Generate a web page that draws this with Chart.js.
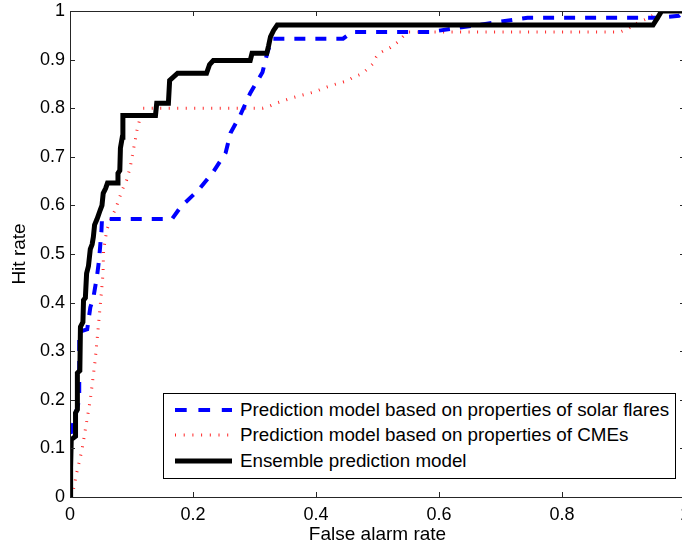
<!doctype html>
<html lang="en">
<head>
    <title>Hit rate vs false alarm rate</title>
    <meta charset="utf-8">
    <script src="https://cdn.jsdelivr.net/npm/chart.js@4.4.0/dist/chart.umd.min.js"></script>
    <style>
        html, body { margin: 0; padding: 0; background: #fff; overflow: hidden; }
        #wrap { position: relative; width: 690px; height: 551px; }
        #legend {
            position: absolute; left: 163px; top: 393px; width: 511px; height: 84px;
            border: 1px solid #000; background: #fff;
            font-family: "Liberation Sans", Arial, sans-serif; font-size: 18.8px; color: #000;
        }
        .row { position: absolute; left: 0; height: 22px; line-height: 22px; white-space: nowrap; }
        .row svg { position: absolute; left: 11px; top: 3px; }
        .row span { position: absolute; left: 76px; top: 0; }
    </style>
</head>
<body>
<div id="wrap">
    <canvas id="roc"></canvas>
    <div id="legend">
        <div class="row" style="top:5px">
            <svg width="60" height="16"><line x1="0" y1="8" x2="57" y2="8" stroke="#0000ff" stroke-width="4" stroke-dasharray="11.7,11.7"/></svg>
            <span>Prediction model based on properties of solar flares</span>
        </div>
        <div class="row" style="top:30px">
            <svg width="60" height="16"><line x1="0" y1="8" x2="57" y2="8" stroke="rgba(255,0,0,0.85)" stroke-width="3" stroke-dasharray="1,7.7"/></svg>
            <span>Prediction model based on properties of CMEs</span>
        </div>
        <div class="row" style="top:56px">
            <svg width="60" height="16"><line x1="0" y1="8" x2="57" y2="8" stroke="#000" stroke-width="5"/></svg>
            <span>Ensemble prediction model</span>
        </div>
    </div>
</div>
<script>
    // tick values
    const xTicks = [0, 0.2, 0.4, 0.6, 0.8, 1];
    const yTicks = [0, 0.1, 0.2, 0.3, 0.4, 0.5, 0.6, 0.7, 0.8, 0.9, 1];

    // solar flares model (blue dashed)
    const flareX = [0, 0.001, 0.015, 0.015, 0.028, 0.033, 0.038, 0.044, 0.047, 0.049, 0.051, 0.052, 0.166, 0.18, 0.209, 0.233, 0.253, 0.261, 0.277, 0.293, 0.313, 0.321, 0.329, 0.444, 0.459, 0.586, 0.744, 0.955, 0.99, 1];
    const flareY = [0, 0.13, 0.2, 0.34, 0.345, 0.39, 0.41, 0.455, 0.485, 0.515, 0.545, 0.572, 0.572, 0.597, 0.632, 0.669, 0.708, 0.749, 0.786, 0.831, 0.874, 0.915, 0.943, 0.943, 0.957, 0.957, 0.986, 0.986, 0.99, 1];

    // CME model (red dotted)
    const cmeX = [0.002, 0.0055, 0.011, 0.0195, 0.0276, 0.033, 0.041, 0.046, 0.051, 0.0537, 0.0546, 0.06, 0.068, 0.074, 0.079, 0.085, 0.092, 0.098, 0.102, 0.106, 0.109, 0.113, 0.115, 0.313, 0.322, 0.337, 0.358, 0.375, 0.399, 0.412, 0.428, 0.45, 0.461, 0.475, 0.485, 0.493, 0.498, 0.507, 0.521, 0.534, 0.542, 0.55, 0.895, 0.905, 0.925, 0.94, 0.96, 1];
    const cmeY = [0, 0.015, 0.05, 0.097, 0.159, 0.2, 0.282, 0.35, 0.42, 0.46, 0.508, 0.55, 0.578, 0.592, 0.611, 0.632, 0.652, 0.679, 0.707, 0.734, 0.755, 0.775, 0.8, 0.8, 0.803, 0.811, 0.82, 0.826, 0.834, 0.841, 0.848, 0.856, 0.864, 0.871, 0.882, 0.892, 0.905, 0.916, 0.925, 0.937, 0.948, 0.957, 0.957, 0.962, 0.977, 0.985, 1, 1];

    // ensemble model (black solid)
    const ensX = [0, 0.001, 0.002, 0.009, 0.009, 0.012, 0.012, 0.016, 0.017, 0.021, 0.022, 0.025, 0.027, 0.03, 0.033, 0.036, 0.038, 0.04, 0.044, 0.049, 0.052, 0.054, 0.058, 0.061, 0.077, 0.078, 0.081, 0.082, 0.085, 0.086, 0.139, 0.141, 0.16, 0.162, 0.175, 0.222, 0.227, 0.233, 0.293, 0.296, 0.32, 0.323, 0.326, 0.331, 0.337, 0.948, 0.955, 0.962, 1];
    const ensY = [0, 0.06, 0.118, 0.125, 0.173, 0.18, 0.255, 0.26, 0.35, 0.36, 0.405, 0.41, 0.46, 0.475, 0.51, 0.52, 0.535, 0.56, 0.572, 0.59, 0.6, 0.625, 0.635, 0.646, 0.646, 0.666, 0.672, 0.718, 0.74, 0.785, 0.785, 0.81, 0.81, 0.857, 0.872, 0.872, 0.89, 0.898, 0.898, 0.913, 0.913, 0.929, 0.947, 0.96, 0.971, 0.971, 0.985, 1, 1];

    function toPoints(xs, ys) {
        return xs.map((x, i) => ({x: x, y: ys[i]}));
    }

    const FONT = {family: '"Liberation Sans", Arial, sans-serif', size: 18};
    const TITLE_FONT = {family: '"Liberation Sans", Arial, sans-serif', size: 19};

    // box around the plot with inward ticks on all four sides
    const framePlugin = {
        id: 'frame',
        afterDatasetsDraw(chart) {
            const ctx = chart.ctx;
            const a = chart.chartArea;
            const xs = chart.scales.x, ys = chart.scales.y;
            const len = 5;
            ctx.save();
            ctx.strokeStyle = '#262626';
            ctx.lineWidth = 1;
            ctx.beginPath();
            xTicks.forEach(v => {
                const p = Math.round(xs.getPixelForValue(v)) + 0.5;
                ctx.moveTo(p, a.bottom); ctx.lineTo(p, a.bottom - len);
                ctx.moveTo(p, a.top); ctx.lineTo(p, a.top + len);
            });
            yTicks.forEach(v => {
                const p = Math.round(ys.getPixelForValue(v)) + 0.5;
                ctx.moveTo(a.left, p); ctx.lineTo(a.left + len, p);
                ctx.moveTo(a.right, p); ctx.lineTo(a.right - len, p);
            });
            ctx.stroke();
            ctx.strokeRect(Math.round(a.left) + 0.5, Math.round(a.top) + 0.5,
                Math.round(a.right - a.left), Math.round(a.bottom - a.top));
            ctx.restore();
        }
    };

    const ctx = document.getElementById('roc').getContext('2d');
    const chart = new Chart(ctx, {
        type: 'line',
        data: {
            datasets: [{
                label: 'Prediction model based on properties of solar flares',
                data: toPoints(flareX, flareY),
                borderColor: '#0000ff',
                borderWidth: 4,
                borderDash: [11, 10],
                order: 1
            }, {
                label: 'Prediction model based on properties of CMEs',
                data: toPoints(cmeX, cmeY),
                borderColor: 'rgba(255,0,0,0.85)',
                borderWidth: 3,
                borderDash: [1, 7.5],
                order: 2
            }, {
                label: 'Ensemble prediction model',
                data: toPoints(ensX, ensY),
                borderColor: '#000',
                borderWidth: 5,
                order: 0
            }]
        },
        options: {
            responsive: true,
            maintainAspectRatio: false,
            animation: false,
            devicePixelRatio: 1,
            layout: {padding: {top: 11, right: 5, left: 0, bottom: 0}},
            elements: {point: {radius: 0}, line: {tension: 0, borderJoinStyle: 'miter'}},
            plugins: {legend: {display: false}, tooltip: {enabled: false}},
            scales: {
                x: {
                    type: 'linear', min: 0, max: 1,
                    afterBuildTicks: s => { s.ticks = xTicks.map(v => ({value: v})); },
                    afterFit: s => { s.height = 54; s.paddingLeft = 0; s.paddingRight = 0; },
                    grid: {display: false, drawTicks: false},
                    border: {display: false},
                    ticks: {color: '#000', font: FONT, padding: 7, maxRotation: 0, autoSkip: false,
                        callback: v => String(Math.round(v * 10) / 10)},
                    title: {display: true, text: 'False alarm rate', color: '#000', font: TITLE_FONT,
                        padding: {top: 5, bottom: 5}}
                },
                y: {
                    type: 'linear', min: 0, max: 1,
                    afterBuildTicks: s => { s.ticks = yTicks.map(v => ({value: v})); },
                    afterFit: s => { s.width = 70; s.paddingTop = 0; s.paddingBottom = 0; },
                    grid: {display: false, drawTicks: false},
                    border: {display: false},
                    ticks: {color: '#000', font: FONT, padding: 5, autoSkip: false,
                        callback: v => String(Math.round(v * 10) / 10)},
                    title: {display: true, text: 'Hit rate', color: '#000', font: TITLE_FONT,
                        padding: {top: 8, bottom: 8}}
                }
            }
        },
        plugins: [framePlugin]
    });
</script>
</body>
</html>
